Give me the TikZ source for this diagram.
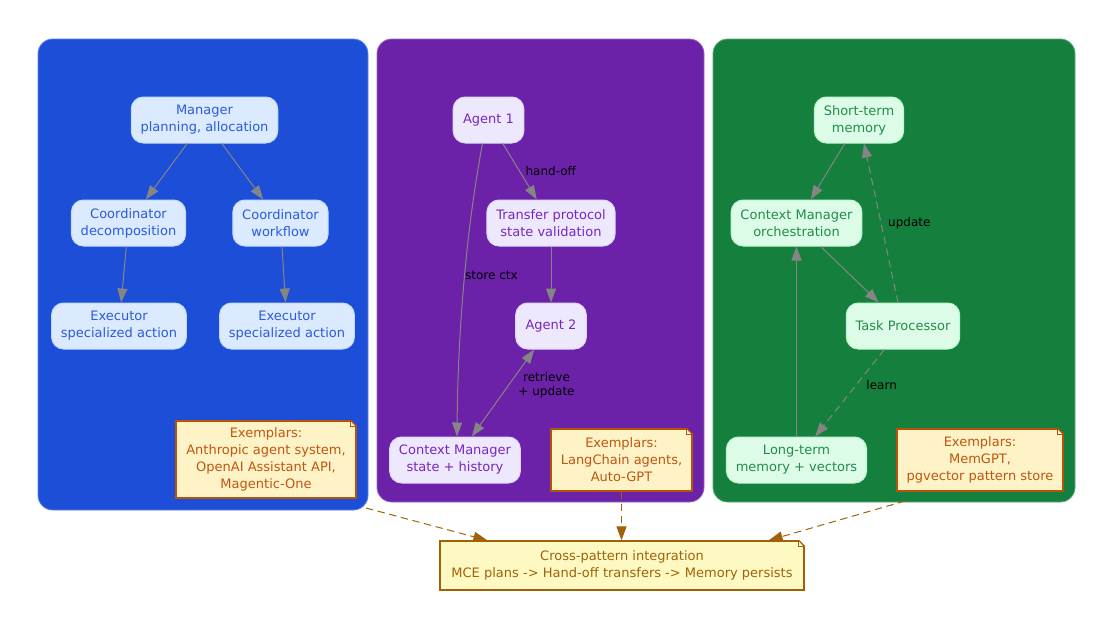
\documentclass[tikz,border=0pt]{standalone}
\usepackage{fontspec}
\setmainfont{DejaVu Sans}
\usetikzlibrary{arrows.meta,shapes,positioning,calc}

\definecolor{blueband}{HTML}{1D4ED8}
\definecolor{bluefill}{HTML}{DBEAFE}
\definecolor{blueedge}{HTML}{BFDBFE}
\definecolor{bluetext}{HTML}{2B5BDC}
\definecolor{purpleband}{HTML}{6B21A8}
\definecolor{purplefill}{HTML}{EEE8FD}
\definecolor{purpleedge}{HTML}{DDD6FE}
\definecolor{purpletext}{HTML}{7727C0}
\definecolor{greenband}{HTML}{15803D}
\definecolor{greenfill}{HTML}{DCFCE7}
\definecolor{greenedge}{HTML}{BBF7D0}
\definecolor{greentext}{HTML}{238C4C}
\definecolor{notefill}{HTML}{FEF3C7}
\definecolor{noteedge}{HTML}{B45309}
\definecolor{notetext}{HTML}{C0560F}
\definecolor{crossfill}{HTML}{FEF9C3}
\definecolor{crossedge}{HTML}{A16207}
\definecolor{edgegray}{HTML}{858585}

\tikzset{
  band/.style={rounded corners=11pt, line width=0.6pt},
  box/.style={rounded corners=9pt, line width=0.75pt, align=center,
    inner xsep=7pt, minimum height=34.5pt, minimum width=53pt,
    font=\fontsize{9.75}{12.75}\selectfont},
  mcebox/.style={box, fill=bluefill, draw=blueedge, text=bluetext},
  hobox/.style={box, fill=purplefill, draw=purpleedge, text=purpletext},
  membox/.style={box, fill=greenfill, draw=greenedge, text=greentext},
  notebox/.style={fill=notefill, draw=noteedge, text=notetext, line width=0.9pt,
    align=center, inner sep=0pt, font=\fontsize{9.75}{12.75}\selectfont},
  flow/.style={-{Triangle[length=10.5pt, width=7.5pt]}, draw=edgegray, line width=0.75pt},
  lbl/.style={font=\fontsize{9}{10.5}\selectfont, inner sep=0pt, text=black, align=center},
  dashline/.style={dash pattern=on 5.5pt off 3.5pt},
  joinline/.style={-{Triangle[length=10.5pt, width=7.5pt]}, draw=crossedge,
    line width=0.75pt, dashline}
}

% folded corner of a note: node, background, line colour
\newcommand{\foldnote}[3]{%
  \fill[#2] ($(#1.north east)+(-6.5,-1)$) -- ($(#1.north east)+(1,-1)$) -- ($(#1.north east)+(1,6.5)$) -- cycle;
  \draw[#3, line width=0.9pt] ($(#1.north east)+(-6,0)$) -- ($(#1.north east)+(0,6)$);
  \draw[#3, line width=0.75pt] ($(#1.north east)+(-6,0)$) -- ($(#1.north east)+(-6,6)$) -- ($(#1.north east)+(0,6)$);
}

\begin{document}
\begin{tikzpicture}[x=0.75pt, y=-0.75pt]
    \useasboundingbox (0,0) rectangle (1114,619);

    % Pattern panels
    \draw[band, fill=blueband, draw=blueband!70!white] (38,39) rectangle (368,510);
    \draw[band, fill=purpleband, draw=purpleband!70!white] (377,39) rectangle (704,502);
    \draw[band, fill=greenband, draw=greenband!70!white] (713,39) rectangle (1075,502);

    % Hierarchical panel
    \node[mcebox] (mgr) at (204.5,120) {Manager\\planning, allocation};
    \node[mcebox] (cdec) at (128.5,223) {Coordinator\\decomposition};
    \node[mcebox] (cwf) at (280.5,223) {Coordinator\\workflow};
    \node[mcebox] (exl) at (119,326) {Executor\\specialized action};
    \node[mcebox] (exr) at (287,326) {Executor\\specialized action};
    \node[notebox, minimum width=135pt, minimum height=57.75pt] (mcenote) at (266,459.5)
        {Exemplars:\\Anthropic agent system,\\OpenAI Assistant API,\\Magentic-One};
    \foldnote{mcenote}{blueband}{noteedge}

    \draw[flow] (mgr) -- (cdec);
    \draw[flow] (mgr) -- (cwf);
    \draw[flow] (cdec) -- (exl);
    \draw[flow] (cwf) -- (exr);

    % Hand-off panel
    \node[hobox] (ag1) at (488.5,120) {Agent 1};
    \node[hobox] (xfer) at (551,223) {Transfer protocol\\state validation};
    \node[hobox] (ag2) at (551,326) {Agent 2};
    \node[hobox] (hoctx) at (455,460) {Context Manager\\state + history};
    \node[notebox, minimum width=105.75pt, minimum height=46.5pt] (honote) at (621.5,460)
        {Exemplars:\\LangChain agents,\\Auto-GPT};
    \foldnote{honote}{purpleband}{noteedge}

    \draw[flow] (ag1) -- node[lbl, pos=0.5, right=4pt] {hand-off} (xfer);
    \draw[flow] (xfer) -- (ag2);
    \draw[flow] ($(ag1.south)+(-6,0)$) .. controls (468,220) and (458,320) .. ($(hoctx.north)+(2,0)$)
        node[lbl, pos=0.5, anchor=west] {store ctx};
    \draw[flow, {Triangle[length=10.5pt, width=7.5pt]}-{Triangle[length=10.5pt, width=7.5pt]}] (ag2) --
        node[lbl, pos=0.41, right=7pt] {retrieve\\+ update} (hoctx);

    % Memory panel
    \node[membox] (stm) at (859,120) {Short-term\\memory};
    \node[membox] (memctx) at (796.5,223) {Context Manager\\orchestration};
    \node[membox] (task) at (903,326) {Task Processor};
    \node[membox] (ltm) at (796.5,460) {Long-term\\memory + vectors};
    \node[notebox, minimum width=124.5pt, minimum height=46.5pt] (memnote) at (980,460)
        {Exemplars:\\MemGPT,\\pgvector pattern store};
    \foldnote{memnote}{greenband}{noteedge}

    \draw[flow] (stm) -- (memctx);
    \draw[flow] (memctx) -- (task);
    \draw[flow, dashline] (task) -- node[lbl, pos=0.5, right=5pt] {update} (stm);
    \draw[flow, dashline] (task) -- node[lbl, pos=0.41, right=7.5pt] {learn} (ltm);
    \draw[flow] (ltm) -- (memctx);

    % Integration note
    \node[notebox, fill=crossfill, draw=crossedge, text=crossedge, minimum width=273pt,
        minimum height=36.75pt] (cross) at (622,565.5)
        {Cross-pattern integration\\MCE plans -> Hand-off transfers -> Memory persists};
    \foldnote{cross}{white}{crossedge}

    \coordinate (mceout) at (366,508);
    \coordinate (memout) at (905,501);
    \draw[joinline] (mceout) -- ($(cross.north west)+(48,0)$);
    \draw[joinline] (honote.south) -- (honote.south |- cross.north);
    \draw[joinline] (memout) -- ($(cross.north east)+(-36,0)$);
\end{tikzpicture}
\end{document}
